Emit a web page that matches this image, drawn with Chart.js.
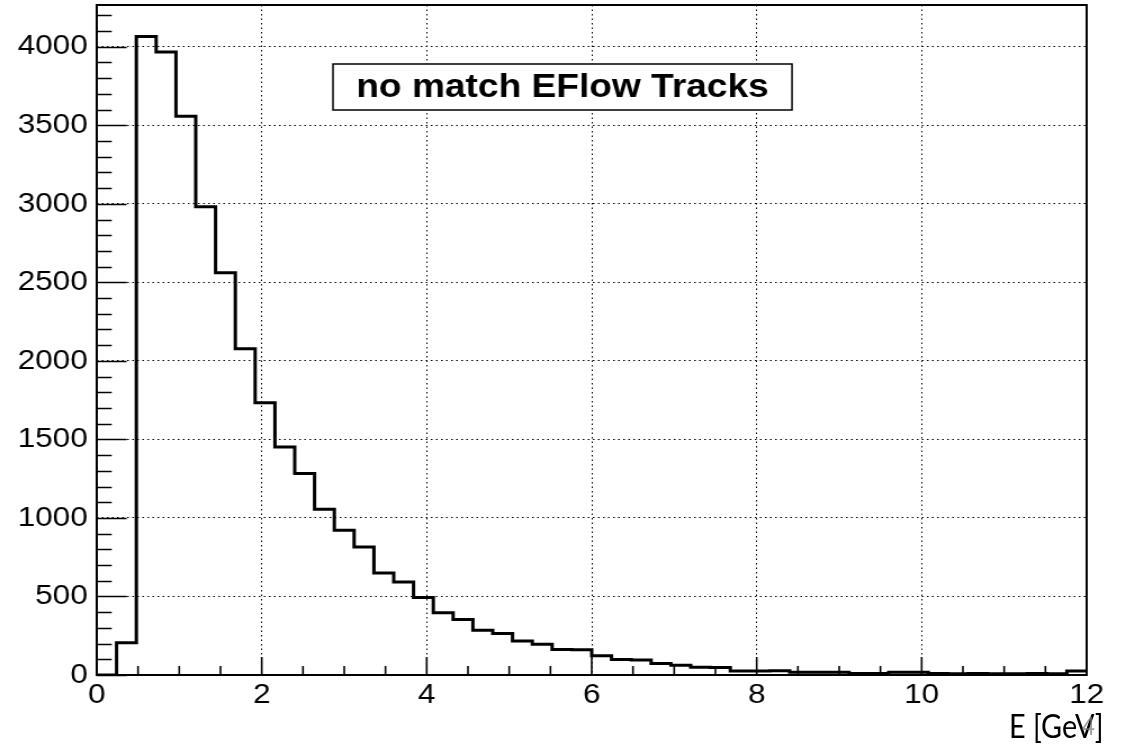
<!DOCTYPE html>
<html>
<head>
<meta charset="utf-8">
<script src="https://cdn.jsdelivr.net/npm/chart.js@4/dist/chart.umd.min.js"></script>
<style>
  html, body { margin: 0; padding: 0; background: #fff; overflow: hidden; }
  /* the ROOT canvas in the reference is a bit stretched sideways */
  #wrap { position: absolute; left: 0; top: 0; width: 1001px; height: 750px;
          transform: scaleX(1.1249); transform-origin: 0 0; }
  #xtitle { position: absolute; left: 1009px; top: 710px; font-family: Lato, "Open Sans", sans-serif;
            font-size: 32px; line-height: 1; color: #000; white-space: nowrap;
            transform: scaleX(0.9); transform-origin: 0 0; }
  #xtitle .ghost { position: absolute; left: 81px; top: 3px; font-size: 25px; color: rgba(120,120,120,0.75); }
</style>
</head>
<body>
<div id="wrap"><canvas id="c" width="1001" height="750"></canvas></div>
<div id="xtitle">E [GeV]<span class="ghost">4</span></div>
<script>
// histogram: 50 bins from 0 to 12 GeV
const X_MIN = 0;
const X_MAX = 12;
const Y_MAX = 4266; // 1.05 * max bin, like ROOT does
const TITLE = "no match EFlow Tracks";

const xTickValues = [0, 2, 4, 6, 8, 10, 12];
const yTickValues = [0, 500, 1000, 1500, 2000, 2500, 3000, 3500, 4000];

const counts = [
  0, 206, 4065, 3966, 3557, 2981, 2561, 2077, 1733, 1452,
  1283, 1055, 922, 815, 650, 592, 493, 397, 353, 285,
  264, 217, 196, 162, 160, 123, 98, 96, 73, 62,
  49, 48, 26, 25, 27, 18, 17, 18, 10, 10,
  17, 17, 9, 8, 9, 8, 8, 9, 8, 25
];

const binWidth = (X_MAX - X_MIN) / counts.length;
const binLowEdges = counts.map((_, i) => +(X_MIN + i * binWidth).toFixed(3));

// step points at low edges, plus the closing upper edge of the last bin
const histPoints = binLowEdges.map((x, i) => ({ x, y: counts[i] }))
  .concat([{ x: X_MAX, y: counts[counts.length - 1] }]);

const SX = 1.1249; // horizontal stretch of the wrapper

const rootDecor = {
  id: "rootDecor",
  afterDraw(chart) {
    const { ctx, chartArea: a, scales: { x, y } } = chart;
    ctx.save();
    ctx.strokeStyle = "#000";

    // inward tick marks (ROOT style), minor ones too
    ctx.lineWidth = 1.6;
    ctx.beginPath();
    for (let v = 0; v <= Y_MAX; v += 100) {
      const py = Math.round(y.getPixelForValue(v)) + 0.5;
      const len = (v % 500 === 0 ? 30 : 15) / SX;
      ctx.moveTo(a.left, py);
      ctx.lineTo(a.left + len, py);
    }
    for (let v = X_MIN; v <= X_MAX + 1e-9; v += 0.5) {
      const px = x.getPixelForValue(v);
      const len = (Math.abs(v % 2) < 1e-9) ? 18 : 9;
      ctx.moveTo(px, a.bottom);
      ctx.lineTo(px, a.bottom - len);
    }
    ctx.stroke();

    // frame
    ctx.lineWidth = 2;
    ctx.strokeRect(a.left, a.top, a.right - a.left, a.bottom - a.top);

    // title pave
    const bx0 = 333 / SX, bx1 = 792 / SX, by0 = 64, by1 = 110;
    ctx.fillStyle = "#fff";
    ctx.fillRect(bx0, by0, bx1 - bx0, by1 - by0);
    ctx.lineWidth = 1.5;
    ctx.strokeRect(bx0, by0, bx1 - bx0, by1 - by0);
    ctx.fillStyle = "#000";
    ctx.font = "bold 33px 'Liberation Sans', Arial, sans-serif";
    ctx.textAlign = "center";
    ctx.textBaseline = "middle";
    ctx.fillText(TITLE, (bx0 + bx1) / 2, (by0 + by1) / 2 + 1);
    ctx.restore();
  }
};

const tickFont = { family: "'Liberation Sans', Arial, sans-serif", size: 28 };

new Chart(document.getElementById("c"), {
  type: "line",
  data: {
    datasets: [{
      label: "E",
      data: histPoints,
      stepped: "before",
      borderColor: "#000",
      borderWidth: 3,
      borderJoinStyle: "miter",
      borderCapStyle: "butt",
      pointRadius: 0,
      fill: false
    }]
  },
  options: {
    responsive: false,
    animation: false,
    devicePixelRatio: 1,
    layout: { padding: { top: 5, right: 35, left: 0, bottom: 0 } },
    plugins: { legend: { display: false }, tooltip: { enabled: false } },
    scales: {
      x: {
        type: "linear",
        min: X_MIN,
        max: X_MAX,
        afterBuildTicks: (s) => { s.ticks = xTickValues.map(v => ({ value: v })); },
        afterFit: (s) => { s.height = 75; s.paddingLeft = 0; s.paddingRight = 0; },
        ticks: { color: "#000", font: tickFont, padding: 3, maxRotation: 0, autoSkip: false,
                 callback: (v) => String(v) },
        grid: { color: "#000", lineWidth: 1, drawTicks: false },
        border: { display: false, dash: [1.5, 3] }
      },
      y: {
        type: "linear",
        min: 0,
        max: Y_MAX,
        afterBuildTicks: (s) => { s.ticks = yTickValues.map(v => ({ value: v })); },
        afterFit: (s) => { s.width = 86; s.paddingTop = 0; s.paddingBottom = 0; },
        ticks: { color: "#000", font: tickFont, padding: 8, autoSkip: false,
                 callback: (v) => String(v) },
        grid: { color: "#000", lineWidth: 1, drawTicks: false },
        border: { display: false, dash: [1.5, 3] }
      }
    }
  },
  plugins: [rootDecor]
});
</script>
</body>
</html>
